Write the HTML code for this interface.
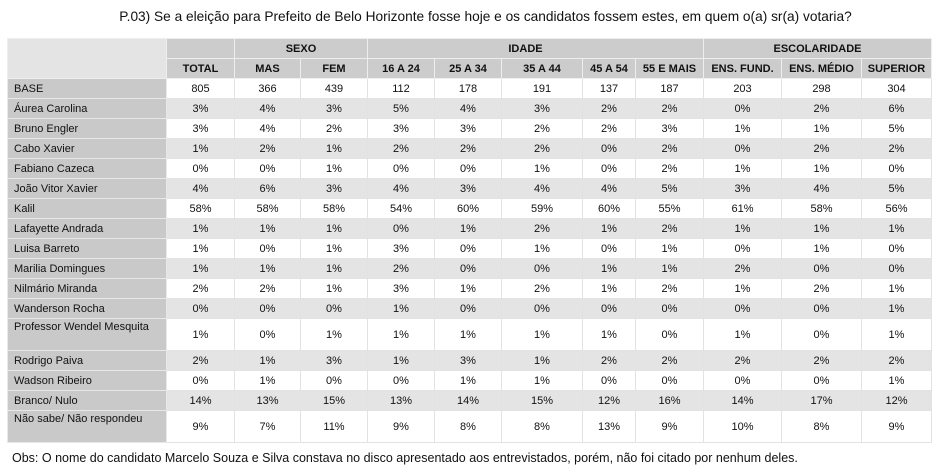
<!DOCTYPE html>
<html><head><meta charset="utf-8"><style>
body{margin:0;width:941px;height:475px;background:#fff;font-family:"Liberation Sans",sans-serif;position:relative;overflow:hidden}
#title{position:absolute;left:0;width:941px;top:9px;text-align:center;font-size:13.7px;color:#111;padding-left:30px;box-sizing:border-box}
table{position:absolute;left:7px;top:38px;border-collapse:collapse;table-layout:fixed;font-size:11px;color:#111}
td,th{border:1px solid #e2e2e2;padding:0;text-align:center;height:19px;overflow:hidden;white-space:nowrap}
th{background:#cccccc;font-weight:bold;font-size:11px;border-color:#eee}
th.corner{background:#e4e4e4}
td.lab{background:#c9c9c9;text-align:left;padding-left:6px;border-color:#e8e8e8}
tr.g td{background:#e4e4e4}
tr.g td.lab{background:#c9c9c9}
tr.tall td{height:31px}
tr.tall td.lab{vertical-align:top;padding-top:2px;height:29px}
#obs{position:absolute;left:12px;top:451px;font-size:12.5px;color:#111}
</style></head><body>
<div id="title">P.03) Se a eleição para Prefeito de Belo Horizonte fosse hoje e os candidatos fossem estes, em quem o(a) sr(a) votaria?</div>
<table id="tbl">
<colgroup><col style="width:159px"><col style="width:68px"><col style="width:66px"><col style="width:67px"><col style="width:67px"><col style="width:67px"><col style="width:81px"><col style="width:53px"><col style="width:68px"><col style="width:78px"><col style="width:80px"><col style="width:70px"></colgroup>
<thead>
<tr><th class="corner" rowspan="2"></th><th style="background:#ccc"></th><th colspan="2">SEXO</th><th colspan="5" style="padding-right:20px">IDADE</th><th colspan="3">ESCOLARIDADE</th></tr>
<tr id="colhead"></tr>
</thead>
<tbody id="body"></tbody>
</table>
<div id="obs">Obs: O nome do candidato Marcelo Souza e Silva constava no disco apresentado aos entrevistados, porém, não foi citado por nenhum deles.</div>
<script>
const columns=["TOTAL","MAS","FEM","16 A 24","25 A 34","35 A 44","45 A 54","55 E MAIS","ENS. FUND.","ENS. MÉDIO","SUPERIOR"];
const rowLabels=["BASE","Áurea Carolina","Bruno Engler","Cabo Xavier","Fabiano Cazeca","João Vitor Xavier","Kalil","Lafayette Andrada","Luisa Barreto","Marilia Domingues","Nilmário Miranda","Wanderson Rocha","Professor Wendel Mesquita","Rodrigo Paiva","Wadson Ribeiro","Branco/ Nulo","Não sabe/ Não respondeu"];
const base=[805,366,439,112,178,191,137,187,203,298,304];
const pct=[
[3,4,3,5,4,3,2,2,0,2,6],
[3,4,2,3,3,2,2,3,1,1,5],
[1,2,1,2,2,2,0,2,0,2,2],
[0,0,1,0,0,1,0,2,1,1,0],
[4,6,3,4,3,4,4,5,3,4,5],
[58,58,58,54,60,59,60,55,61,58,56],
[1,1,1,0,1,2,1,2,1,1,1],
[1,0,1,3,0,1,0,1,0,1,0],
[1,1,1,2,0,0,1,1,2,0,0],
[2,2,1,3,1,2,1,2,1,2,1],
[0,0,0,1,0,0,0,0,0,0,1],
[1,0,1,1,1,1,1,0,1,0,1],
[2,1,3,1,3,1,2,2,2,2,2],
[0,1,0,0,1,1,0,0,0,0,1],
[14,13,15,13,14,15,12,16,14,17,12],
[9,7,11,9,8,8,13,9,10,8,9]];
const ch=document.getElementById('colhead');
columns.forEach(c=>{const th=document.createElement('th');th.textContent=c;


ch.appendChild(th);});
const tb=document.getElementById('body');
rowLabels.forEach((l,i)=>{const tr=document.createElement('tr');


if(i%2===1)tr.className='g';
if(l.startsWith('Professor')||l.startsWith('Não sabe'))tr.className+=' tall';
const td=document.createElement('td');td.className='lab';td.textContent=l;


tr.appendChild(td);
const vals=i===0?base:pct[i-1];
vals.forEach(v=>{const c=document.createElement('td');c.textContent=i===0?String(v):v+'%';


tr.appendChild(c);});
tb.appendChild(tr);});
</script>
</body></html>
